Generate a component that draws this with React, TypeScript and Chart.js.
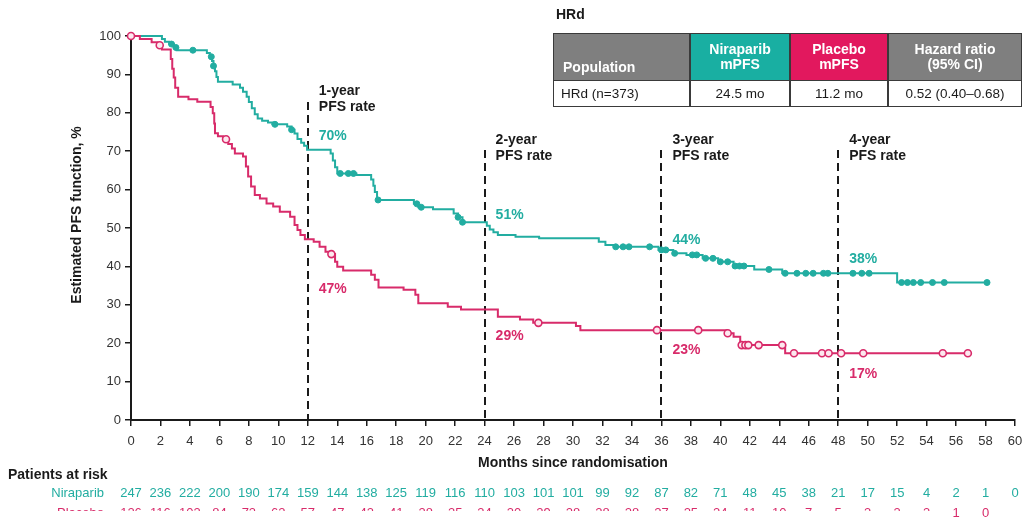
import React, { useEffect, useRef } from "react";
import { Chart, registerables } from "chart.js";

Chart.register(...registerables);

const FONT = "'Liberation Sans', Arial, Helvetica, sans-serif";
const TEAL = "#22ada1";
const MAGENTA = "#d82b6a";
const INK = "#1a1a1a";

// Kaplan–Meier steps: [month of event, estimated PFS (%) after it]
const niraparibSteps: [number, number][] = [
  [0, 100], [2.1, 99.2], [2.3, 98.5], [2.6, 97.9], [2.9, 97.0], [3.1, 96.3],
  [5.15, 95.6], [5.35, 94.6], [5.5, 93.5], [5.6, 92.2], [5.7, 90.8], [5.8, 89.3],
  [5.9, 88.1], [6.9, 87.4], [7.4, 86.5], [7.6, 85.5], [7.85, 84.2], [8.0, 82.8],
  [8.2, 81.2], [8.4, 79.6], [8.6, 78.5], [8.9, 77.9], [9.3, 77.5], [9.6, 77.0],
  [10.6, 76.4], [10.9, 75.6], [11.1, 74.6], [11.3, 73.2], [11.55, 72.2], [11.75, 71.4],
  [11.95, 70.4], [13.55, 69.4], [13.7, 67.6], [13.85, 65.8], [14.0, 64.2], [15.3, 63.8],
  [16.3, 62.6], [16.45, 61.0], [16.55, 59.4], [16.7, 57.3], [19.2, 56.3], [19.5, 55.4],
  [20.5, 54.9], [21.9, 53.8], [22.2, 52.8], [22.5, 51.5], [24.15, 50.6], [24.35, 49.6],
  [24.6, 48.9], [24.9, 48.2], [26.1, 47.7], [27.7, 47.3], [31.75, 46.4], [32.2, 45.6],
  [32.8, 45.1], [35.8, 44.3], [36.8, 43.4], [37.7, 43.0], [38.8, 42.1], [39.85, 41.2],
  [40.9, 40.1], [42.3, 39.2], [44.2, 38.2], [52.0, 35.8], [58.1, 35.8],
];

const placeboSteps: [number, number][] = [
  [0, 100], [0.6, 99.2], [1.4, 98.4], [1.8, 97.6], [2.1, 96.5], [2.7, 94.0],
  [2.8, 91.5], [2.9, 89.2], [3.0, 86.5], [3.2, 84.2], [3.9, 83.5], [4.5, 82.9],
  [5.4, 81.5], [5.55, 79.9], [5.65, 77.2], [5.7, 74.7], [5.9, 73.9], [6.25, 73.1],
  [6.6, 71.9], [6.85, 70.7], [7.05, 69.4], [7.6, 68.6], [7.8, 66.0], [7.95, 63.4],
  [8.15, 60.8], [8.4, 58.6], [8.75, 57.7], [9.2, 56.4], [9.65, 55.6], [10.1, 54.2],
  [10.8, 52.9], [11.1, 50.8], [11.3, 49.5], [11.5, 48.2], [11.8, 47.1], [12.4, 46.4],
  [12.8, 45.1], [13.2, 43.8], [13.5, 43.2], [13.85, 41.2], [14.0, 39.9], [14.4, 38.9],
  [16.3, 37.8], [16.55, 36.5], [16.8, 34.5], [18.5, 33.9], [19.3, 32.6], [19.5, 30.4],
  [21.5, 29.5], [22.4, 28.8], [24.9, 26.9], [26.4, 26.2], [27.3, 25.3], [30.2, 24.5],
  [30.5, 23.4], [40.4, 22.6], [40.9, 21.7], [41.35, 19.5], [44.4, 17.4], [56.8, 17.4],
];

// Months at which patients were censored
const niraparibCensored = [
  2.75, 3.05, 4.2, 5.45, 5.6, 9.77, 10.9, 14.2, 14.75, 15.1, 16.77, 19.4, 19.7, 22.2,
  22.5, 32.9, 33.4, 33.8, 35.2, 36.0, 36.3, 36.9, 38.1, 38.4, 39.0, 39.5, 40.0, 40.5,
  41.0, 41.3, 41.6, 43.3, 44.4, 45.2, 45.8, 46.3, 47.0, 47.3, 49.0, 49.6, 50.1, 52.3,
  52.7, 53.1, 53.6, 54.4, 55.2, 58.1,
];
const placeboCensored = [
  0, 1.95, 6.45, 13.6, 27.65, 35.7, 38.5, 40.5, 41.45, 41.7, 41.9, 42.6, 44.2, 45.0,
  46.9, 47.35, 48.2, 49.7, 55.1, 56.8,
];

// Landmark PFS rates
const landmarkMonths = [12, 24, 36, 48];
const landmarkTitles = ["1-year", "2-year", "3-year", "4-year"];
const niraparibRates = [70, 51, 44, 38];
const placeboRates = [47, 29, 23, 17];

// Patients at risk
const riskMonths = [0, 2, 4, 6, 8, 10, 12, 14, 16, 18, 20, 22, 24, 26, 28, 30, 32, 34, 36, 38, 40, 42, 44, 46, 48, 50, 52, 54, 56, 58, 60];
const niraparibAtRisk = [247, 236, 222, 200, 190, 174, 159, 144, 138, 125, 119, 116, 110, 103, 101, 101, 99, 92, 87, 82, 71, 48, 45, 38, 21, 17, 15, 4, 2, 1, 0];
const placeboAtRisk = [126, 116, 103, 84, 73, 62, 57, 47, 43, 41, 38, 35, 34, 30, 29, 28, 28, 28, 27, 25, 24, 11, 10, 7, 5, 3, 3, 3, 1, 0];

// Summary table
const tableHeaders = ["Population", "Niraparib\nmPFS", "Placebo\nmPFS", "Hazard ratio\n(95% CI)"];
const tableRow = ["HRd (n=373)", "24.5 mo", "11.2 mo", "0.52 (0.40–0.68)"];

// Layout of the annotation texts (pixels)
const landmarkLayout = [
  { dashTopPx: 102, titleY: 91 },
  { dashTopPx: 150, titleY: 140 },
  { dashTopPx: 150, titleY: 140 },
  { dashTopPx: 150, titleY: 140 },
];
const niraparibLabelOffset = [-15, -9, -11, -15];
const placeboLabelOffset = [50, 28, 18, 19];

function pfsAt(steps: [number, number][], month: number): number {
  let v = steps[0][1];
  for (const [m, p] of steps) if (m <= month) v = p;
  return v;
}

const annotationPlugin = {
  id: "pfsAnnotations",
  beforeDatasetsDraw(chart: any) {
    const { ctx, chartArea } = chart;
    const x = chart.scales.x;
    ctx.save();
    ctx.strokeStyle = INK;
    ctx.lineWidth = 2;
    ctx.setLineDash([8, 5]);
    landmarkMonths.forEach((m, i) => {
      const px = Math.round(x.getPixelForValue(m));
      ctx.beginPath();
      ctx.moveTo(px, landmarkLayout[i].dashTopPx);
      ctx.lineTo(px, chartArea.bottom);
      ctx.stroke();
    });
    ctx.restore();
  },
  afterDraw(chart: any) {
    const { ctx, chartArea } = chart;
    const x = chart.scales.x;
    const y = chart.scales.y;
    ctx.save();
    ctx.textBaseline = "middle";

    // Landmark headings and rates
    landmarkMonths.forEach((m, i) => {
      const lx = x.getPixelForValue(m) + 11;
      ctx.textAlign = "left";
      ctx.fillStyle = INK;
      ctx.font = `bold 14px ${FONT}`;
      ctx.fillText(landmarkTitles[i], lx, landmarkLayout[i].titleY);
      ctx.fillText("PFS rate", lx, landmarkLayout[i].titleY + 16);
      ctx.fillStyle = TEAL;
      ctx.fillText(`${niraparibRates[i]}%`, lx, y.getPixelForValue(niraparibRates[i]) + niraparibLabelOffset[i]);
      ctx.fillStyle = MAGENTA;
      ctx.fillText(`${placeboRates[i]}%`, lx, y.getPixelForValue(placeboRates[i]) + placeboLabelOffset[i]);
    });

    // Axis titles
    ctx.fillStyle = INK;
    ctx.font = `bold 14px ${FONT}`;
    ctx.save();
    ctx.translate(77, 215);
    ctx.rotate(-Math.PI / 2);
    ctx.textAlign = "center";
    ctx.fillText("Estimated PFS function, %", 0, 0);
    ctx.restore();

    ctx.font = `bold 14px ${FONT}`;
    ctx.textAlign = "center";
    ctx.fillText("Months since randomisation", (chartArea.left + chartArea.right) / 2, 463);

    // Patients at risk
    ctx.textAlign = "left";
    ctx.font = `bold 14px ${FONT}`;
    ctx.fillText("Patients at risk", 8, 475);

    ctx.font = `13px ${FONT}`;
    ctx.fillStyle = TEAL;
    ctx.textAlign = "right";
    ctx.fillText("Niraparib", 104, 493);
    ctx.textAlign = "center";
    niraparibAtRisk.forEach((n, i) => ctx.fillText(String(n), x.getPixelForValue(riskMonths[i]), 493));

    ctx.fillStyle = MAGENTA;
    placeboAtRisk.forEach((n, i) => {
      const px = x.getPixelForValue(riskMonths[i]);
      ctx.save();
      if (px < 945) {
        ctx.beginPath();
        ctx.rect(0, 0, 945, 511);
        ctx.clip();
      }
      ctx.fillText(String(n), px, 513);
      ctx.restore();
    });
    ctx.save();
    ctx.beginPath();
    ctx.rect(0, 0, 945, 511);
    ctx.clip();
    ctx.textAlign = "right";
    ctx.fillText("Placebo", 104, 513);
    ctx.restore();

    ctx.restore();
  },
};

const cellBorder = "1px solid #3a3a3a";

function SummaryTable() {
  const cols = [
    { left: 553, width: 137, bg: "#7f7f7f" },
    { left: 690, width: 100, bg: "#19afa2" },
    { left: 790, width: 98, bg: "#e2185e" },
    { left: 888, width: 134, bg: "#7f7f7f" },
  ];
  const top = 33;
  const headH = 48;
  const rowH = 27;
  return (
    <>
      <div style={{ position: "absolute", left: 556, top: 6, font: `bold 14px ${FONT}`, color: INK }}>HRd</div>
      {cols.map((c, i) => (
        <div
          key={"h" + i}
          style={{
            position: "absolute",
            left: c.left,
            top,
            width: c.width,
            height: headH,
            boxSizing: "border-box",
            background: c.bg,
            border: cellBorder,
            color: "#fff",
            font: `bold 14px ${FONT}`,
            lineHeight: "15px",
            display: "flex",
            flexDirection: "column",
            justifyContent: i === 0 ? "flex-end" : "center",
            alignItems: i === 0 ? "flex-start" : "center",
            textAlign: i === 0 ? "left" : "center",
            padding: i === 0 ? "0 0 5px 9px" : "0",
            whiteSpace: "pre",
          }}
        >
          {tableHeaders[i]}
        </div>
      ))}
      {cols.map((c, i) => (
        <div
          key={"r" + i}
          style={{
            position: "absolute",
            left: c.left,
            top: top + headH - 1,
            width: c.width,
            height: rowH,
            boxSizing: "border-box",
            background: "#fff",
            border: cellBorder,
            color: INK,
            font: `13.5px ${FONT}`,
            display: "flex",
            alignItems: "center",
            justifyContent: i === 0 ? "flex-start" : "center",
            padding: i === 0 ? "0 0 0 7px" : "0",
            whiteSpace: "pre",
          }}
        >
          {tableRow[i]}
        </div>
      ))}
    </>
  );
}

export default function App() {
  const canvasRef = useRef<HTMLCanvasElement>(null);

  useEffect(() => {
    const canvas = canvasRef.current;
    if (!canvas) return;

    const tickFont = { family: FONT, size: 13 };
    const chart = new Chart(canvas, {
      type: "line",
      data: {
        datasets: [
          {
            label: "Niraparib censored",
            data: niraparibCensored.map((m) => ({ x: m, y: pfsAt(niraparibSteps, m) })),
            showLine: false,
            pointRadius: 3,
            pointBackgroundColor: TEAL,
            pointBorderColor: TEAL,
            pointBorderWidth: 1,
            clip: false,
          },
          {
            label: "Placebo censored",
            data: placeboCensored.map((m) => ({ x: m, y: pfsAt(placeboSteps, m) })),
            showLine: false,
            pointRadius: 3.5,
            pointBackgroundColor: "#fde8ef",
            pointBorderColor: MAGENTA,
            pointBorderWidth: 1.6,
            clip: false,
          },
          {
            label: "Placebo",
            data: placeboSteps.map(([m, p]) => ({ x: m, y: p })),
            stepped: "before",
            borderColor: MAGENTA,
            borderWidth: 2,
            pointRadius: 0,
            fill: false,
            clip: false,
          },
          {
            label: "Niraparib",
            data: niraparibSteps.map(([m, p]) => ({ x: m, y: p })),
            stepped: "before",
            borderColor: TEAL,
            borderWidth: 2,
            pointRadius: 0,
            fill: false,
            clip: false,
          },
        ],
      },
      options: {
        animation: false,
        responsive: false,
        devicePixelRatio: 1,
        events: [],
        layout: { autoPadding: false, padding: { left: 0, right: 8, top: 36, bottom: 49 } },
        plugins: { legend: { display: false }, tooltip: { enabled: false }, title: { display: false } },
        scales: {
          x: {
            type: "linear",
            min: 0,
            max: 60,
            afterFit: (s: any) => {
              s.height = 50;
              s.paddingLeft = 0;
              s.paddingRight = 0;
            },
            ticks: { stepSize: 2, autoSkip: false, maxRotation: 0, font: tickFont, color: "#333", padding: 8 },
            grid: { drawOnChartArea: false, drawTicks: true, tickLength: 6, color: INK, lineWidth: 1.5 },
            border: { display: true, color: INK, width: 2 },
          },
          y: {
            min: 0,
            max: 100,
            afterFit: (s: any) => {
              s.width = 131;
              s.paddingTop = 0;
              s.paddingBottom = 0;
            },
            ticks: { stepSize: 10, font: tickFont, color: "#333", padding: 4 },
            grid: { drawOnChartArea: false, drawTicks: true, tickLength: 6, color: INK, lineWidth: 1.5 },
            border: { display: true, color: INK, width: 2 },
          },
        },
      },
      plugins: [annotationPlugin],
    } as any);

    return () => chart.destroy();
  }, []);

  return (
    <div style={{ position: "fixed", left: 0, top: 0, width: 1023, height: 519, background: "#fff", overflow: "hidden" }}>
      <canvas ref={canvasRef} width={1023} height={519} style={{ position: "absolute", left: 0, top: 0, width: 1023, height: 519 }} />
      <SummaryTable />
    </div>
  );
}
